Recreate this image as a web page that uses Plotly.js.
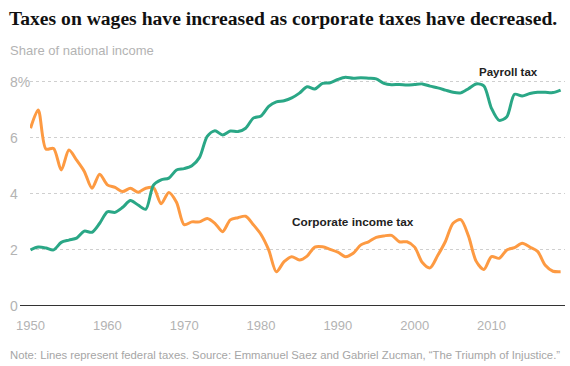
<!DOCTYPE html>
<html>
<head>
<meta charset="utf-8">
<script src="https://cdn.plot.ly/plotly-3.0.1.min.js"></script>
<style>html,body{margin:0;padding:0;background:#fff;}#chart{width:570px;height:366px;}</style>
</head>
<body>
<div id="chart"></div>
<script>
const years = [];
for (let y = 1950; y <= 2019; y++) years.push(y);

const payrollTax = [
  2.00, 2.10, 2.07, 2.00, 2.27, 2.35, 2.42, 2.67, 2.63, 2.95,
  3.36, 3.34, 3.52, 3.76, 3.60, 3.45, 4.31, 4.50, 4.56, 4.85,
  4.90, 5.00, 5.30, 6.05, 6.25, 6.10, 6.24, 6.22, 6.34, 6.70,
  6.78, 7.12, 7.28, 7.32, 7.42, 7.59, 7.82, 7.74, 7.94, 7.96,
  8.08, 8.16, 8.12, 8.14, 8.12, 8.10, 7.94, 7.89, 7.90, 7.88,
  7.90, 7.92, 7.84, 7.78, 7.70, 7.62, 7.60, 7.75, 7.92, 7.85,
  7.05, 6.62, 6.75, 7.55, 7.49, 7.58, 7.62, 7.62, 7.61, 7.70
];

const corporateTax = [
  6.34, 6.99, 5.60, 5.62, 4.85, 5.56, 5.20, 4.80, 4.20, 4.70,
  4.32, 4.23, 4.08, 4.20, 4.06, 4.20, 4.22, 3.65, 4.05, 3.70,
  2.90, 3.00, 3.00, 3.12, 2.95, 2.65, 3.07, 3.15, 3.20, 2.90,
  2.55, 2.00, 1.22, 1.58, 1.76, 1.64, 1.78, 2.10, 2.11, 2.02,
  1.92, 1.76, 1.88, 2.18, 2.29, 2.45, 2.50, 2.52, 2.29, 2.29,
  2.10, 1.55, 1.36, 1.80, 2.30, 2.95, 3.08, 2.50, 1.60, 1.30,
  1.76, 1.70, 2.00, 2.08, 2.24, 2.10, 1.95, 1.45, 1.24, 1.22
];

const xTickVals = [1950, 1960, 1970, 1980, 1990, 2000, 2010];
const xTickText = ["1950", "1960", "1970", "1980", "1990", "2000", "2010"];
const yTickVals = [0, 2, 4, 6, 8];
const yTickText = ["0", "2", "4", "6", "8%"];

const titleText = "Taxes on wages have increased as corporate taxes have decreased.";
const subtitleText = "Share of national income";
const noteText = "Note: Lines represent federal taxes. Source: Emmanuel Saez and Gabriel Zucman, \u201cThe Triumph of Injustice.\u201d";
const payrollLabel = {text: "Payroll tax", x: 2012.2, y: 8.35};
const corpLabel = {text: "Corporate income tax", x: 1992, y: 3.0};

const green = "#2aa786";
const orange = "#fd9a42";

const traces = [
  {x: years, y: corporateTax, type: "scatter", mode: "lines",
   line: {color: orange, width: 3, shape: "spline", smoothing: 0.8}, hoverinfo: "skip"},
  {x: years, y: payrollTax, type: "scatter", mode: "lines",
   line: {color: green, width: 3, shape: "spline", smoothing: 0.8}, hoverinfo: "skip"}
];

const plotL = 30, plotR = 5, plotW = 570 - plotL - plotR;

const annotations = [
  {text: titleText, xref: "paper", yref: "paper", x: -23/plotW, y: 1, yshift: 46,
   xanchor: "left", yanchor: "middle", showarrow: false,
   font: {family: "Liberation Serif", size: 19.6, color: "#111", weight: "bold"}},
  {text: subtitleText, xref: "paper", yref: "paper", x: -22/plotW, y: 1, yshift: 14,
   xanchor: "left", yanchor: "middle", showarrow: false,
   font: {family: "Liberation Sans", size: 13, color: "#b3b3b3"}},
  {text: noteText, xref: "paper", yref: "paper", x: -22/plotW, y: 0, yshift: -49,
   xanchor: "left", yanchor: "middle", showarrow: false,
   font: {family: "Liberation Sans", size: 11.3, color: "#a6a6a6"}},
  {text: payrollLabel.text, x: payrollLabel.x, y: payrollLabel.y, xref: "x", yref: "y",
   xanchor: "center", yanchor: "middle", showarrow: false,
   font: {family: "Liberation Sans", size: 11.5, color: "#222", weight: "bold"}},
  {text: corpLabel.text, x: corpLabel.x, y: corpLabel.y, xref: "x", yref: "y",
   xanchor: "center", yanchor: "middle", showarrow: false,
   font: {family: "Liberation Sans", size: 11.8, color: "#222", weight: "bold"}}
];
yTickVals.forEach((v, i) => {
  annotations.push({text: yTickText[i], xref: "paper", yref: "y", x: -22/plotW, y: v,
    xanchor: "left", yanchor: "middle", showarrow: false,
    font: {family: "Liberation Sans", size: 14, color: "#b3b3b3"}});
});

const layout = {
  width: 570, height: 366,
  margin: {l: plotL, r: plotR, t: 64, b: 60},
  paper_bgcolor: "#fff", plot_bgcolor: "#fff",
  showlegend: false,
  xaxis: {
    range: [1949.93, 2019.57], tickvals: xTickVals, ticktext: xTickText,
    showgrid: false, zeroline: false, showline: false, ticks: "",
    ticklabelstandoff: 10,
    tickfont: {family: "Liberation Sans", size: 13, color: "#b3b3b3"}
  },
  yaxis: {
    range: [0, 8.63], tickvals: [2, 4, 6, 8], showticklabels: false,
    showgrid: true, gridcolor: "#cfcfcf", griddash: "dot", gridwidth: 1,
    zeroline: false, showline: false, ticks: ""
  },
  shapes: [
    {type: "line", xref: "paper", yref: "y", x0: -10/plotW, x1: 1, y0: 0, y1: 0,
     line: {color: "#333", width: 2}}
  ],
  annotations: annotations
};

Plotly.newPlot("chart", traces, layout, {displayModeBar: false, staticPlot: true});
</script>
</body>
</html>
